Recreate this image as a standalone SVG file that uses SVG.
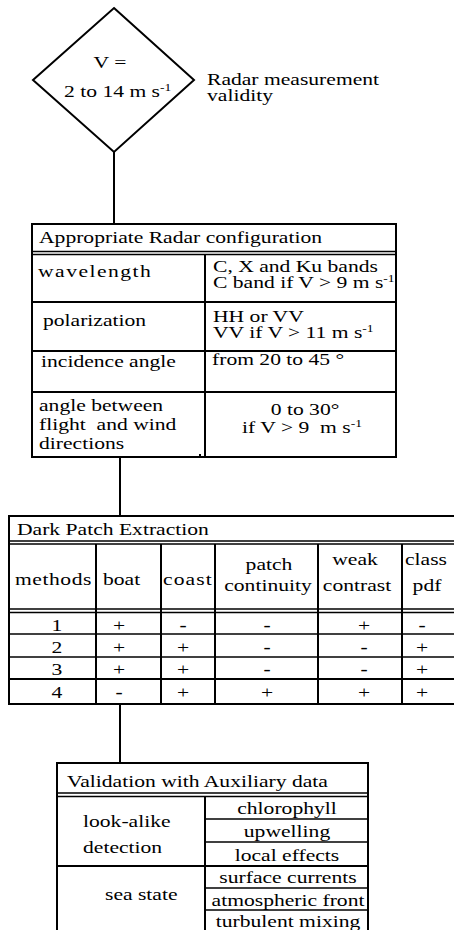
<svg xmlns="http://www.w3.org/2000/svg" width="454" height="930" viewBox="0 0 454 930">
<style>
text{font-family:"Liberation Serif","DejaVu Serif",serif;font-size:16px;fill:#000}
.m{text-anchor:middle}
.b{fill:none;stroke:#000;stroke-width:2}
.l{stroke:#000;stroke-width:1.5;fill:none}
.d{font-weight:bold}
</style>
<rect width="454" height="930" fill="#fff"/>
<g font-family="Liberation Serif, DejaVu Serif, serif">
<g id="connectors">
<line class="b" x1="114" y1="152" x2="114" y2="224"/>
<line class="b" x1="120" y1="457" x2="120" y2="516"/>
<line class="b" x1="120" y1="704" x2="120" y2="763"/>
</g>
<g id="validity">
<polygon class="b" points="114,8 194,80 114,152 33,80"/>
<text class="m" transform="translate(110,68) scale(1.35,1)">V =</text>
<text transform="translate(64,97) scale(1.35,1)">2 to 14 m s<tspan font-size="10" dy="-6">-1</tspan></text>
<text transform="translate(207,85) scale(1.35,1)">Radar measurement</text>
<text transform="translate(207,101) scale(1.35,1)">validity</text>
</g>
<g id="radar">
<rect class="b" x="32" y="224" width="364" height="233"/>
<line class="l" x1="32" y1="251.5" x2="396" y2="251.5"/>
<line class="l" x1="32" y1="254.5" x2="396" y2="254.5"/>
<line class="b" x1="205" y1="254" x2="205" y2="457"/>
<line class="b" x1="32" y1="302" x2="396" y2="302"/>
<line class="b" x1="32" y1="351" x2="396" y2="351"/>
<line class="b" x1="32" y1="392" x2="396" y2="392"/>
<rect x="199" y="454" width="2" height="2" fill="#000"/>
<text transform="translate(39,243) scale(1.35,1)">Appropriate Radar configuration</text>
<text transform="translate(38,277) scale(1.35,1)" letter-spacing="1.1">wavelength</text>
<text transform="translate(213,272) scale(1.35,1)">C, X and Ku bands</text>
<text transform="translate(213,288) scale(1.35,1)">C band if V &gt; 9 m s<tspan font-size="10" dy="-6">-1</tspan></text>
<text transform="translate(43,326) scale(1.35,1)">polarization</text>
<text transform="translate(213,322) scale(1.35,1)">HH or VV</text>
<text transform="translate(213,338) scale(1.35,1)">VV if V &gt; 11 m s<tspan font-size="10" dy="-6">-1</tspan></text>
<text transform="translate(41,367) scale(1.35,1)">incidence angle</text>
<text transform="translate(212,365) scale(1.35,1)">from 20 to 45 °</text>
<text transform="translate(39,411) scale(1.35,1)">angle between</text>
<text transform="translate(39,430) scale(1.35,1)">flight&#160; and wind</text>
<text transform="translate(39,449) scale(1.35,1)">directions</text>
<text class="m" transform="translate(305,415) scale(1.35,1)">0 to 30°</text>
<text class="m" transform="translate(302,433) scale(1.35,1)">if V &gt; 9&#160; m s<tspan font-size="10" dy="-6">-1</tspan></text>
</g>
<g id="darkpatch">
<rect class="b" x="9" y="516" width="455" height="188"/>
<line class="l" x1="9" y1="541" x2="464" y2="541"/>
<line class="l" x1="9" y1="544" x2="464" y2="544"/>
<line class="l" x1="9" y1="609" x2="464" y2="609"/>
<line class="l" x1="9" y1="612.5" x2="464" y2="612.5"/>
<line class="l" x1="9" y1="634" x2="464" y2="634"/>
<line class="l" x1="9" y1="657" x2="464" y2="657"/>
<line class="b" x1="9" y1="679" x2="464" y2="679"/>
<line class="b" x1="96" y1="544" x2="96" y2="704"/>
<line class="b" x1="161" y1="544" x2="161" y2="704"/>
<line class="b" x1="215" y1="544" x2="215" y2="704"/>
<line class="b" x1="318" y1="544" x2="318" y2="704"/>
<line class="b" x1="402" y1="544" x2="402" y2="704"/>
<text transform="translate(17,535) scale(1.35,1)">Dark Patch Extraction</text>
<text transform="translate(15,585) scale(1.35,1)" letter-spacing="0.4">methods</text>
<text transform="translate(103,585) scale(1.35,1)">boat</text>
<text transform="translate(163,585) scale(1.35,1)" letter-spacing="0.8">coast</text>
<text class="m" transform="translate(269,570) scale(1.35,1)">patch</text>
<text class="m" transform="translate(268,591) scale(1.35,1)">continuity</text>
<text class="m" transform="translate(355,565) scale(1.35,1)">weak</text>
<text class="m" transform="translate(357,591) scale(1.35,1)">contrast</text>
<text class="m" transform="translate(426,565) scale(1.35,1)">class</text>
<text class="m" transform="translate(427,591) scale(1.35,1)">pdf</text>
<text class="m" transform="translate(57,631) scale(1.35,1)">1</text>
<text class="m" transform="translate(119,631) scale(1.35,1)">+</text>
<text class="m d" transform="translate(183,631) scale(1.35,1)">-</text>
<text class="m d" transform="translate(267,631) scale(1.35,1)">-</text>
<text class="m" transform="translate(364,631) scale(1.35,1)">+</text>
<text class="m d" transform="translate(422,631) scale(1.35,1)">-</text>
<text class="m" transform="translate(57,653) scale(1.35,1)">2</text>
<text class="m" transform="translate(119,653) scale(1.35,1)">+</text>
<text class="m" transform="translate(183,653) scale(1.35,1)">+</text>
<text class="m d" transform="translate(267,653) scale(1.35,1)">-</text>
<text class="m d" transform="translate(364,653) scale(1.35,1)">-</text>
<text class="m" transform="translate(422,653) scale(1.35,1)">+</text>
<text class="m" transform="translate(57,675) scale(1.35,1)">3</text>
<text class="m" transform="translate(119,675) scale(1.35,1)">+</text>
<text class="m" transform="translate(183,675) scale(1.35,1)">+</text>
<text class="m d" transform="translate(267,675) scale(1.35,1)">-</text>
<text class="m d" transform="translate(364,675) scale(1.35,1)">-</text>
<text class="m" transform="translate(422,675) scale(1.35,1)">+</text>
<text class="m" transform="translate(57,698) scale(1.35,1)">4</text>
<text class="m d" transform="translate(119,698) scale(1.35,1)">-</text>
<text class="m" transform="translate(183,698) scale(1.35,1)">+</text>
<text class="m" transform="translate(267,698) scale(1.35,1)">+</text>
<text class="m" transform="translate(364,698) scale(1.35,1)">+</text>
<text class="m" transform="translate(422,698) scale(1.35,1)">+</text>
</g>
<g id="validation">
<rect class="b" x="57" y="763" width="311" height="180"/>
<line class="l" x1="57" y1="793" x2="368" y2="793"/>
<line class="l" x1="57" y1="796.5" x2="368" y2="796.5"/>
<line class="b" x1="205" y1="797" x2="205" y2="943"/>
<line class="l" x1="205" y1="819" x2="368" y2="819"/>
<line class="l" x1="205" y1="842" x2="368" y2="842"/>
<line class="b" x1="57" y1="866" x2="368" y2="866"/>
<line class="l" x1="205" y1="888" x2="368" y2="888"/>
<line class="l" x1="205" y1="910" x2="368" y2="910"/>
<text transform="translate(67,787) scale(1.35,1)">Validation with Auxiliary data</text>
<text transform="translate(83,827) scale(1.35,1)">look-alike</text>
<text transform="translate(83,853) scale(1.35,1)">detection</text>
<text transform="translate(105,900) scale(1.35,1)">sea state</text>
<text class="m" transform="translate(287,814) scale(1.35,1)">chlorophyll</text>
<text class="m" transform="translate(287,837) scale(1.35,1)">upwelling</text>
<text class="m" transform="translate(287,861) scale(1.35,1)">local effects</text>
<text class="m" transform="translate(288,883) scale(1.35,1)">surface currents</text>
<text class="m" transform="translate(288,906) scale(1.35,1)">atmospheric front</text>
<text class="m" transform="translate(288,927) scale(1.35,1)">turbulent mixing</text>
</g>
</g>
</svg>
